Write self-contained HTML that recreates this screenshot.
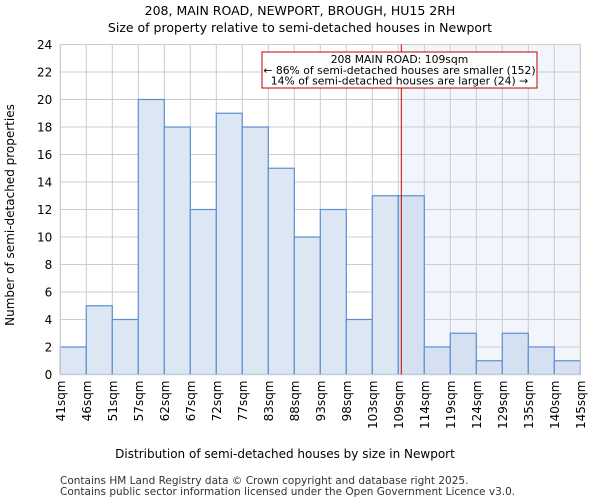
<!DOCTYPE html>
<html><head><meta charset="utf-8"><style>
body{margin:0;background:#fff;font-family:"DejaVu Sans","Liberation Sans",sans-serif}
</style></head><body>
<svg id="chart" width="600" height="500" xmlns="http://www.w3.org/2000/svg" font-family="DejaVu Sans, Liberation Sans, sans-serif">
<text x="300" y="15" font-size="12.5" text-anchor="middle">208, MAIN ROAD, NEWPORT, BROUGH, HU15 2RH</text>
<text x="300" y="32" font-size="12.5" text-anchor="middle">Size of property relative to semi-detached houses in Newport</text>
<g id="plot"></g>
<text x="285" y="458" font-size="12" text-anchor="middle">Distribution of semi-detached houses by size in Newport</text>
<text transform="translate(14,215) rotate(-90)" font-size="12" text-anchor="middle">Number of semi-detached properties</text>
<text x="60" y="484" font-size="10.5" fill="#333">Contains HM Land Registry data © Crown copyright and database right 2025.</text>
<text x="60" y="495" font-size="10.5" fill="#333">Contains public sector information licensed under the Open Government Licence v3.0.</text>
</svg>
<script>
const binLabels=["41sqm","46sqm","51sqm","57sqm","62sqm","67sqm","72sqm","77sqm","83sqm","88sqm","93sqm","98sqm","103sqm","109sqm","114sqm","119sqm","124sqm","129sqm","135sqm","140sqm","145sqm"];
const counts=[2,5,4,20,18,12,19,18,15,10,12,4,13,13,2,3,1,3,2,1];
const yTicks=[0,2,4,6,8,10,12,14,16,18,20,22,24];
const propertySize=109.2;
const sizeMin=41, sizeMax=145;

const NS="http://www.w3.org/2000/svg";
const g=document.getElementById('plot');
const L=60.3,R=580.3,T=44.5,B=374.5,yMax=24;
const n=counts.length,bw=(R-L)/n;
const xi=i=>L+i*bw;
const y=v=>B-(v/yMax)*(B-T);
const xs=v=>L+(v-sizeMin)/(sizeMax-sizeMin)*(R-L);
function mk(t,a){const e=document.createElementNS(NS,t);for(const k in a)e.setAttribute(k,a[k]);g.appendChild(e);return e;}
const px=xs(propertySize);
let sh=mk('rect',{x:px,y:T,width:R-px,height:B-T,fill:'#f2f5fc'});


yTicks.forEach(v=>{
 let l=mk('line',{x1:L,x2:R,y1:y(v),y2:y(v),stroke:'#cccccc','stroke-width':1});
 
 
 let t=mk('text',{x:L-8,y:y(v)+4.5,'font-size':12,'text-anchor':'end'});t.textContent=v;
 
 
});
binLabels.forEach((s,i)=>{
 let l=mk('line',{x1:xi(i),x2:xi(i),y1:T,y2:B,stroke:'#cccccc','stroke-width':1});
 
 
 let t=mk('text',{transform:`translate(${xi(i)+4.5},${B+6}) rotate(-90)`,'font-size':12,'text-anchor':'end'});t.textContent=s;
 
 
});
counts.forEach((c,i)=>{
 let r=mk('rect',{x:xi(i),y:y(c),width:bw,height:B-y(c),fill:xi(i)>=px-4?'#d5e0f1':'#dde6f3',stroke:'#5b8fd4','stroke-width':1.2});
 
 
});
let ax=mk('rect',{x:L,y:T,width:R-L,height:B-T,fill:'none',stroke:'#cccccc','stroke-width':1});


let pl=mk('line',{x1:px,x2:px,y1:T,y2:B,stroke:'#c00000','stroke-width':1});


let box=mk('rect',{x:262,y:52,width:275,height:36,fill:'#fff',stroke:'#c00000','stroke-width':1});


[["208 MAIN ROAD: 109sqm",63],["← 86% of semi-detached houses are smaller (152)",73.8],["14% of semi-detached houses are larger (24) →",84.3]].forEach(([s,yy])=>{
 let t=mk('text',{x:399.5,y:yy,'font-size':10.8,'text-anchor':'middle'});t.textContent=s;
 
 
});
</script>
</body></html>
